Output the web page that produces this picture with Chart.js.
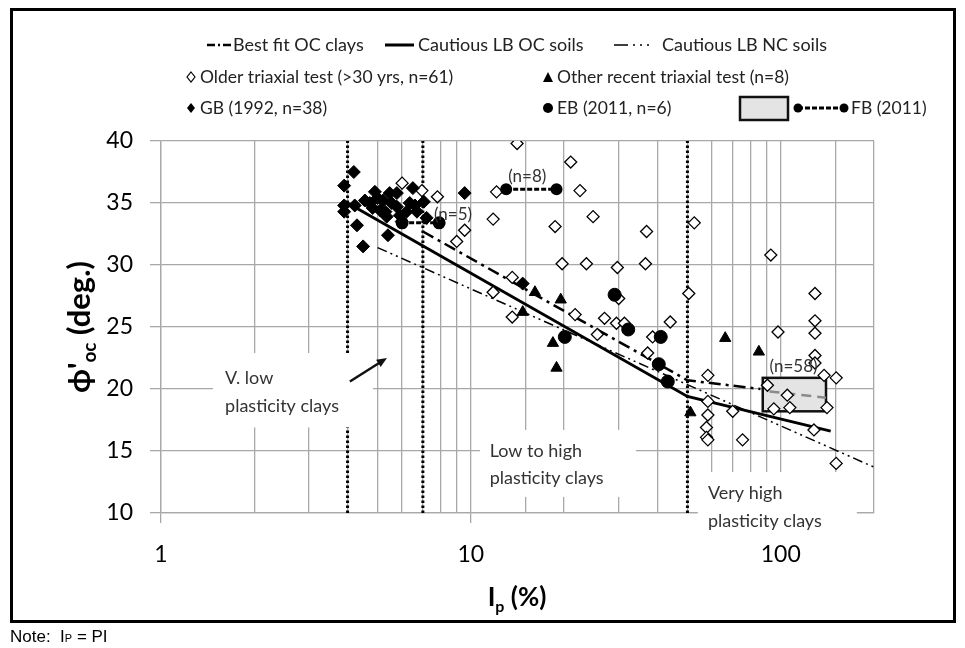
<!DOCTYPE html>
<html>
<head>
<meta charset="utf-8">
<title>phi'oc vs Ip</title>
<script src="https://cdn.jsdelivr.net/npm/chart.js@4.4.1/dist/chart.umd.min.js"></script>
<style>
  body { margin: 0; background: #fff; }
  #wrap { position: relative; width: 965px; height: 648px; overflow: hidden; }
  #myChart { position: absolute; left: 0; top: 0; }
  #frame { position: absolute; left: 10px; top: 8px; width: 940px; height: 609px; border: 3px solid #000; pointer-events: none; }
  #note { position: absolute; left: 10px; top: 627px; font: 17px "Liberation Sans", Arial, sans-serif; color: #000; }
  #note span { font-size: 11px; }
</style>
</head>
<body>
<div id="wrap">
  <canvas id="myChart" width="965" height="648"></canvas>
  <div id="frame"></div>
  <div id="note">Note:&nbsp; I<span>P</span> = PI</div>
</div>
<script>
// x: plasticity index Ip (%) on a log axis, y: phi'oc (deg.)
const ipTickLabels = [1, 10, 100];

// Older triaxial test (>30 yrs, n=61)
const olderIp  = [14.1, 21.0, 22.5, 12.1, 24.8, 18.7, 11.8, 36.9, 19.7, 23.6, 29.7, 36.6, 13.6, 11.8, 9.0, 9.55, 7.8, 6.0, 6.95,
                  21.7, 13.6, 27.0, 29.5, 31.3, 25.6, 44.0, 38.6, 52.6, 92.9, 50.5, 129, 129, 129, 98, 37.2, 129, 129, 58.2,
                  151, 90.6, 105, 58.2, 70, 58.2, 57.6, 57.6, 58.2, 75.3, 128, 151, 141, 107, 95, 138, 30.0];
const olderPhi = [39.8, 38.3, 36.0, 35.9, 33.9, 33.1, 33.7, 32.7, 30.1, 30.1, 29.8, 30.1, 29.0, 27.8, 31.9, 32.8, 35.5, 36.6, 36.0,
                  26.0, 25.8, 25.7, 25.3, 25.3, 24.4, 25.4, 24.2, 33.4, 30.8, 27.7, 27.7, 25.5, 24.5, 24.6, 22.9, 22.7, 22.1, 21.1,
                  20.9, 20.3, 19.5, 19.0, 18.2, 17.9, 16.9, 16.1, 15.9, 15.9, 16.7, 14.0, 18.5, 18.5, 18.4, 21.1, 27.3];

// Other recent triaxial test (n=8)
const recentIp  = [16.1, 19.5, 18.4, 18.9, 14.7, 51.1, 66.2, 85];
const recentPhi = [27.8, 27.2, 23.7, 21.7, 26.2, 18.1, 24.1, 23.0];

// GB (1992, n=38)
const gbIp  = [3.9, 4.19, 3.9, 3.9, 4.22, 4.29, 4.49, 4.9, 4.72, 4.82, 5.1, 5.2, 5.47, 5.35, 5.4, 5.77, 5.77, 5.98, 6.2, 6.35,
               6.5, 7.05, 7.2, 9.55, 14.7, 5.55, 5.0, 5.9, 5.3, 4.55, 6.6, 6.7];
const gbPhi = [36.4, 37.5, 34.8, 34.3, 34.8, 33.2, 31.5, 35.9, 35.0, 34.6, 34.4, 35.2, 35.8, 33.9, 32.4, 34.7, 35.8, 33.5, 34.3, 35.0,
               36.2, 35.1, 33.8, 35.8, 28.5, 35.0, 35.4, 34.0, 34.3, 35.2, 34.8, 34.3];

// EB (2011, n=6)
const ebIp  = [29.1, 32.2, 41.0, 40.4, 43.2, 20.1];
const ebPhi = [27.6, 24.8, 24.2, 22.0, 20.6, 24.2];

// FB (2011): ranges (n=8), (n=5) and box (n=58)
const fb8Ip = [13.0, 18.9], fb8Phi = [36.1, 36.1];
const fb5Ip = [6.0, 7.9],   fb5Phi = [33.4, 33.4];
const fb58Ip = [87.5, 140], fb58Phi = [18.2, 20.9];

// trend lines
const bestFitIp = [7, 50, 86],   bestFitPhi = [32.7, 20.7, 20.0];
const bestFitFbIp = [92, 140],   bestFitFbPhi = [19.8, 19.3];
const lbOcIp = [4, 50, 145],     lbOcPhi = [35.0, 19.4, 16.6];
const lbNcIp = [5, 200],         lbNcPhi = [31.4, 13.7];

// plasticity class boundaries
const boundaryIp = [4, 7, 50];

const pts = (xs, ys) => xs.map((x, i) => ({ x: x, y: ys[i] }));
const gridColor = '#a8a8a8';
const font = 'Lato, "Open Sans", sans-serif';

const boxPlugin = {
  id: 'fbBox',
  beforeDatasetsDraw(chart) {
    const c = chart.ctx, sx = chart.scales.x, sy = chart.scales.y;
    const x1 = sx.getPixelForValue(fb58Ip[0]), x2 = sx.getPixelForValue(fb58Ip[1]);
    const y1 = sy.getPixelForValue(fb58Phi[1]), y2 = sy.getPixelForValue(fb58Phi[0]);
    c.save();
    c.fillStyle = '#e4e4e4';
    c.fillRect(x1, y1, x2 - x1, y2 - y1);
    c.lineWidth = 2.5;
    c.strokeStyle = '#111';
    c.strokeRect(x1, y1, x2 - x1, y2 - y1);
    c.restore();
  }
};

const labelPlugin = {
  id: 'regionLabels',
  afterDatasetsDraw(chart) {
    const c = chart.ctx, sx = chart.scales.x, sy = chart.scales.y;
    const px = v => sx.getPixelForValue(v), py = v => sy.getPixelForValue(v);
    const boxes = [
      { x1: 1.47, x2: 4.83, y1: 16.9, y2: 22.9, tx: 1.61, ty: [20.9, 18.6], lines: ['V. low', 'plasticity clays'] },
      { x1: 10.7, x2: 34.1, y1: 11.3, y2: 16.7, tx: 11.5, ty: [15.0, 12.8], lines: ['Low to high', 'plasticity clays'] },
      { x1: 54.0, x2: 176,  y1: 7.8,  y2: 13.3, tx: 58.2, ty: [11.6, 9.35], lines: ['Very high', 'plasticity clays'] }
    ];
    c.save();
    boxes.forEach(b => {
      c.fillStyle = '#fff';
      c.fillRect(px(b.x1), py(b.y2), px(b.x2) - px(b.x1), py(b.y1) - py(b.y2));
      c.fillStyle = '#333';
      c.font = '18px ' + font;
      c.textAlign = 'left';
      c.textBaseline = 'middle';
      b.lines.forEach((t, i) => c.fillText(t, px(b.tx), py(b.ty[i])));
    });
    // arrow towards the very low plasticity zone
    const ax1 = px(4.07), ay1 = py(20.6), ax2 = px(5.36), ay2 = py(22.5);
    const ang = Math.atan2(ay2 - ay1, ax2 - ax1);
    c.strokeStyle = '#111';
    c.lineWidth = 2.5;
    c.beginPath(); c.moveTo(ax1, ay1); c.lineTo(ax2 - 6 * Math.cos(ang), ay2 - 6 * Math.sin(ang)); c.stroke();
    c.fillStyle = '#111';
    c.beginPath();
    c.moveTo(ax2, ay2);
    c.lineTo(ax2 - 11 * Math.cos(ang - 0.4), ay2 - 11 * Math.sin(ang - 0.4));
    c.lineTo(ax2 - 11 * Math.cos(ang + 0.4), ay2 - 11 * Math.sin(ang + 0.4));
    c.closePath(); c.fill();
    // n labels
    c.fillStyle = '#333';
    c.font = '17px ' + font;
    c.textAlign = 'center';
    c.textBaseline = 'middle';
    c.fillText('(n=8)', px(15.2), py(37.1));
    c.fillText('(n=5)', px(8.76), py(34.1));
    c.fillText('(n=58)', px(110), py(21.8));
    c.restore();
  }
};

const legendPlugin = {
  id: 'customLegend',
  afterDraw(chart) {
    const c = chart.ctx;
    const seg = (x1, x2, y, dash, w) => {
      c.save(); c.setLineDash(dash); c.lineWidth = w; c.strokeStyle = '#000';
      c.beginPath(); c.moveTo(x1, y); c.lineTo(x2, y); c.stroke(); c.restore();
    };
    const diamond = (x, y, r, filled) => {
      c.beginPath(); c.moveTo(x, y - r); c.lineTo(x + r * 0.8, y); c.lineTo(x, y + r); c.lineTo(x - r * 0.8, y); c.closePath();
      if (filled) { c.fillStyle = '#000'; c.fill(); } else { c.fillStyle = '#fff'; c.fill(); c.lineWidth = 1.2; c.strokeStyle = '#000'; c.stroke(); }
    };
    c.save();
    c.font = '18px ' + font;
    c.fillStyle = '#222';
    c.textBaseline = 'middle';
    // row 1: lines
    seg(207, 231, 45, [8, 3, 2, 3], 2.5);
    seg(385, 414, 45, [], 3);
    seg(614, 654, 45, [14, 5, 2, 5, 2, 5, 2, 5], 1.5);
    c.fillStyle = '#222';
    c.fillText('Best fit OC clays', 233, 45);
    c.fillText('Cautious LB OC soils', 418, 45);
    c.fillText('Cautious LB NC soils', 662, 45);
    // row 2
    c.font = '17.5px ' + font;
    diamond(191, 77, 5, false);
    c.fillStyle = '#000';
    c.beginPath(); c.moveTo(548, 72); c.lineTo(553, 82); c.lineTo(543, 82); c.closePath(); c.fill();
    c.fillStyle = '#222';
    c.fillText('Older triaxial test (>30 yrs, n=61)', 200, 77);
    c.fillText('Other recent triaxial test (n=8)', 557, 77);
    // row 3
    diamond(191, 108, 5, true);
    c.fillStyle = '#000';
    c.beginPath(); c.arc(548, 108, 5, 0, Math.PI * 2); c.fill();
    c.fillStyle = '#222';
    c.fillText('GB (1992, n=38)', 200, 108);
    c.fillText('EB (2011, n=6)', 557, 108);
    c.fillStyle = '#e4e4e4'; c.fillRect(740, 97, 48, 23);
    c.lineWidth = 2.5; c.strokeStyle = '#111'; c.strokeRect(740, 97, 48, 23);
    seg(798, 844, 108, [5, 2], 3);
    c.fillStyle = '#000';
    c.beginPath(); c.arc(798, 108, 4.5, 0, Math.PI * 2); c.fill();
    c.beginPath(); c.arc(844, 108, 4.5, 0, Math.PI * 2); c.fill();
    c.fillStyle = '#222';
    c.fillText('FB (2011)', 851, 108);

    // axis titles
    const drawParts = (parts, cx, baseY) => {
      let w = 0;
      parts.forEach(p => { c.font = p.f; w += c.measureText(p.t).width; });
      let x = cx - w / 2;
      c.textAlign = 'left';
      c.textBaseline = 'alphabetic';
      parts.forEach(p => { c.font = p.f; c.fillText(p.t, x, baseY + p.dy); x += c.measureText(p.t).width; });
    };
    c.fillStyle = '#000';
    const big = 'bold 26px ' + font, small = 'bold 16px ' + font;
    drawParts([{ t: 'I', f: big, dy: 0 }, { t: 'p', f: small, dy: 6 }, { t: ' (%)', f: big, dy: 0 }], 517, 606);
    c.save();
    c.translate(90, 327);
    c.rotate(-Math.PI / 2);
    const yBig = 'bold 31px ' + font, ySmall = 'bold 19px ' + font;
    drawParts([{ t: 'ϕ', f: yBig, dy: 0 }, { t: '\'', f: yBig, dy: 0 },
               { t: 'oc', f: ySmall, dy: 6 }, { t: ' (deg.)', f: yBig, dy: 0 }], 0, 0);
    c.restore();
    c.restore();
  }
};

const datasets = [
  { label: 'GB (1992, n=38)', data: pts(gbIp, gbPhi), pointStyle: 'rectRot', pointRadius: 6.5,
    backgroundColor: '#000', borderColor: '#000', borderWidth: 1, order: 1 },
  { label: 'EB (2011, n=6)', data: pts(ebIp, ebPhi), pointStyle: 'circle', pointRadius: 6.5,
    backgroundColor: '#000', borderColor: '#000', order: 1 },
  { label: 'Other recent triaxial test (n=8)', data: pts(recentIp, recentPhi), pointStyle: 'triangle', pointRadius: 6.5,
    backgroundColor: '#000', borderColor: '#000', order: 1 },
  { label: 'FB (2011) n=8', data: pts(fb8Ip, fb8Phi), showLine: true, borderDash: [5, 2], borderWidth: 3,
    pointRadius: 4.5, backgroundColor: '#000', borderColor: '#000', order: 1 },
  { label: 'FB (2011) n=5', data: pts(fb5Ip, fb5Phi), showLine: true, borderDash: [5, 2], borderWidth: 3,
    pointRadius: 5, backgroundColor: '#000', borderColor: '#000', order: 1 },
  { label: 'Older triaxial test (>30 yrs, n=61)', data: pts(olderIp, olderPhi), pointStyle: 'rectRot', pointRadius: 6,
    backgroundColor: '#fff', borderColor: '#000', borderWidth: 1.3, order: 2 },
  { label: 'Best fit FB', data: pts(bestFitFbIp, bestFitFbPhi), showLine: true, borderDash: [10, 6], borderWidth: 2.5,
    pointRadius: 0, borderColor: '#8a8a8a', order: 3 },
  { label: 'Best fit OC clays', data: pts(bestFitIp, bestFitPhi), showLine: true, borderDash: [12, 5, 3, 5], borderWidth: 2.5,
    pointRadius: 0, borderColor: '#000', order: 4 },
  { label: 'Cautious LB OC soils', data: pts(lbOcIp, lbOcPhi), showLine: true, borderWidth: 3,
    pointRadius: 0, borderColor: '#000', order: 4 },
  { label: 'Cautious LB NC soils', data: pts(lbNcIp, lbNcPhi), showLine: true, borderDash: [10, 4, 2, 4, 2, 4], borderWidth: 1.5,
    pointRadius: 0, borderColor: '#000', order: 4 }
];
boundaryIp.forEach(v => datasets.push({
  label: 'Ip = ' + v, data: [{ x: v, y: 10 }, { x: v, y: 40 }], showLine: true, borderDash: [2.5, 2.5],
  borderWidth: 3, pointRadius: 0, borderColor: '#000', order: 6
}));

const ctx = document.getElementById('myChart').getContext('2d');
new Chart(ctx, {
  type: 'scatter',
  data: { datasets: datasets },
  options: {
    responsive: false,
    animation: false,
    events: [],
    layout: { padding: { left: 0, top: 141, right: 91, bottom: 0 } },
    plugins: { legend: { display: false }, tooltip: { enabled: false } },
    scales: {
      x: {
        type: 'logarithmic', min: 1, max: 200,
        afterFit: s => { s.height = 135; },
        border: { color: gridColor, width: 1.3 },
        grid: {
          color: gridColor, lineWidth: 1.3, tickLength: 10,
          tickColor: c => ipTickLabels.includes(c.tick && c.tick.value) ? gridColor : 'rgba(0,0,0,0)'
        },
        ticks: {
          autoSkip: false, maxRotation: 0, padding: 18, color: '#000',
          font: { family: font, size: 23 },
          callback: v => ipTickLabels.includes(v) ? String(v) : ''
        }
      },
      y: {
        min: 10, max: 40,
        afterFit: s => { s.width = 161; },
        border: { color: gridColor, width: 1.3 },
        grid: { color: gridColor, lineWidth: 1.3, tickLength: 11 },
        ticks: { stepSize: 5, padding: 17, color: '#000', font: { family: font, size: 23 } }
      }
    }
  },
  plugins: [boxPlugin, labelPlugin, legendPlugin]
});
</script>
</body>
</html>
